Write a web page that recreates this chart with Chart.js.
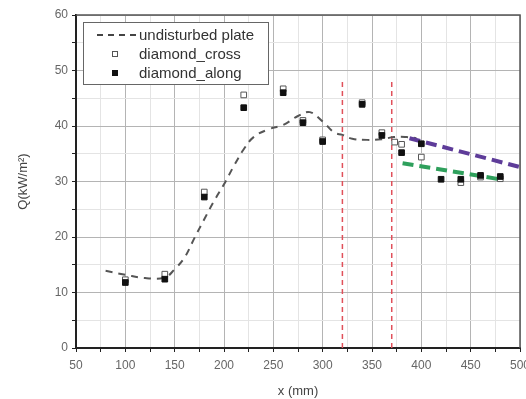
<!DOCTYPE html>
<html>
<head>
<meta charset="utf-8">
<script src="https://cdn.jsdelivr.net/npm/chart.js@4"></script>
<style>
  html, body { margin: 0; padding: 0; background: #fff; }
  #wrap { width: 526px; height: 399px; }
</style>
</head>
<body>
<div id="wrap"><canvas id="heatChart"></canvas></div>
<script>
// values
const plateX = [80, 100, 120, 140, 150, 160, 170, 180, 190, 200, 210, 220, 230, 245, 260, 275, 287, 300, 312, 320, 330, 345, 360, 372, 385, 395];
const plateY = [13.9, 13.2, 12.6, 12.7, 14.2, 16.3, 19.8, 23.2, 26.5, 29.5, 32.8, 35.8, 38, 39.4, 40.2, 41.8, 42.5, 40.8, 38.8, 38.4, 37.7, 37.5, 37.6, 38, 38, 37.8];

const crossX = [100, 140, 180, 220, 260, 280, 300, 340, 360, 373, 380, 400, 440, 460, 480];
const crossY = [12.3, 13.3, 28.1, 45.6, 46.7, 41, 37.5, 44.2, 38.8, 37.1, 36.7, 34.4, 29.8, 30.8, 30.5];

const alongX = [100, 140, 180, 220, 260, 280, 300, 340, 360, 380, 400, 420, 440, 460, 480];
const alongY = [11.8, 12.4, 27.2, 43.3, 46, 40.6, 37.2, 43.9, 38.3, 35.2, 36.8, 30.4, 30.4, 31.1, 30.9];

const purpleX = [388, 500];
const purpleY = [37.8, 32.6];
const greenX = [381, 483];
const greenY = [33.3, 30.3];

const markerX = [320, 370];
const markerTop = 48;

const xTicks = [50, 100, 150, 200, 250, 300, 350, 400, 450, 500];
const yTicks = [0, 10, 20, 30, 40, 50, 60];

function toPoints(xs, ys) {
  return xs.map((x, i) => ({ x: x, y: ys[i] }));
}

const FONT = "'Liberation Sans', Arial, sans-serif";

// frame on top/right + legend box inside the plot
const framePlugin = {
  id: "frame",
  afterDraw(chart) {
    const { ctx, chartArea: a } = chart;
    ctx.save();
    ctx.strokeStyle = "#555";
    ctx.lineWidth = 1.5;
    ctx.beginPath();
    ctx.moveTo(a.left, a.top);
    ctx.lineTo(a.right, a.top);
    ctx.lineTo(a.right, a.bottom);
    ctx.stroke();

    // legend
    const bx = a.left + 7, by = a.top + 7, bw = 185, bh = 62;
    ctx.fillStyle = "#fff";
    ctx.fillRect(bx, by, bw, bh);
    ctx.strokeStyle = "#666";
    ctx.lineWidth = 1;
    ctx.strokeRect(bx + 0.5, by + 0.5, bw, bh);

    const ds = chart.data.datasets;
    const rows = [ds[0], ds[1], ds[2]];
    ctx.font = "15px " + FONT;
    ctx.textBaseline = "middle";
    rows.forEach((d, i) => {
      const cy = by + 13 + i * 19;
      const sx = bx + 14, ex = bx + 54;
      if (i === 0) {
        ctx.strokeStyle = "#444";
        ctx.lineWidth = 2;
        ctx.setLineDash([6, 5]);
        ctx.beginPath();
        ctx.moveTo(sx, cy);
        ctx.lineTo(ex, cy);
        ctx.stroke();
        ctx.setLineDash([]);
      } else {
        const mx = (sx + ex) / 2 - 2;
        if (i === 1) {
          ctx.strokeStyle = "#555";
          ctx.lineWidth = 1;
          ctx.strokeRect(mx - 2.5, cy - 2.5, 5, 5);
        } else {
          ctx.fillStyle = "#111";
          ctx.fillRect(mx - 3, cy - 3, 6, 6);
        }
      }
      ctx.fillStyle = "#333";
      ctx.fillText(d.label, bx + 56, cy + 1);
    });
    ctx.restore();
  }
};

const ctx = document.getElementById("heatChart").getContext("2d");

new Chart(ctx, {
  type: "scatter",
  data: {
    datasets: [
      {
        label: "undisturbed plate",
        data: toPoints(plateX, plateY),
        showLine: true,
        borderColor: "#555",
        borderWidth: 2,
        borderDash: [7, 6],
        tension: 0.4,
        pointRadius: 0,
        order: 3
      },
      {
        label: "diamond_cross",
        data: toPoints(crossX, crossY),
        pointStyle: "rect",
        pointRadius: 4,
        backgroundColor: "#fff",
        borderColor: "#555",
        borderWidth: 1,
        order: 1
      },
      {
        label: "diamond_along",
        data: toPoints(alongX, alongY),
        pointStyle: "rect",
        pointRadius: 4,
        backgroundColor: "#111",
        borderColor: "#111",
        borderWidth: 1,
        order: 0
      },
      {
        label: "trend_upper",
        data: toPoints(purpleX, purpleY),
        showLine: true,
        borderColor: "#5e3c99",
        borderWidth: 4,
        borderDash: [11, 6],
        pointRadius: 0,
        order: 2
      },
      {
        label: "trend_lower",
        data: toPoints(greenX, greenY),
        showLine: true,
        borderColor: "#2fa05c",
        borderWidth: 4,
        borderDash: [11, 6],
        pointRadius: 0,
        order: 2
      },
      {
        label: "edge_1",
        data: [{ x: markerX[0], y: 0 }, { x: markerX[0], y: markerTop }],
        showLine: true,
        borderColor: "#e0505a",
        borderWidth: 1.5,
        borderDash: [5, 4],
        pointRadius: 0,
        order: 4
      },
      {
        label: "edge_2",
        data: [{ x: markerX[1], y: 0 }, { x: markerX[1], y: markerTop }],
        showLine: true,
        borderColor: "#e0505a",
        borderWidth: 1.5,
        borderDash: [5, 4],
        pointRadius: 0,
        order: 4
      }
    ]
  },
  options: {
    responsive: true,
    maintainAspectRatio: false,
    animation: false,
    layout: {
      padding: { top: 15, right: 6, left: 0, bottom: 0 }
    },
    plugins: {
      legend: { display: false },
      tooltip: { enabled: false }
    },
    scales: {
      x: {
        type: "linear",
        min: 50,
        max: 500,
        afterFit: s => {
          s.height = 51;
          s.paddingLeft = 0;
          s.paddingRight = 0;
        },
        ticks: {
          stepSize: 25,
          autoSkip: false,
          maxRotation: 0,
          color: "#666",
          font: { size: 12, family: FONT },
          padding: 6,
          callback: v => (xTicks.includes(v) ? v : "")
        },
        grid: {
          color: c => (xTicks.includes(c.tick.value) ? "#b4b4b4" : "#e4e4e4"),
          tickColor: "#222",
          tickLength: 4,
          lineWidth: 1
        },
        border: { color: "#222", width: 2 },
        title: {
          display: true,
          text: "x (mm)",
          color: "#444",
          font: { size: 13, family: FONT },
          padding: { top: 4, bottom: 0 }
        }
      },
      y: {
        min: 0,
        max: 60,
        afterFit: s => {
          s.width = 76;
          s.paddingTop = 0;
          s.paddingBottom = 0;
        },
        ticks: {
          stepSize: 5,
          autoSkip: false,
          color: "#666",
          font: { size: 12, family: FONT },
          padding: 4,
          callback: v => (yTicks.includes(v) ? v : "")
        },
        grid: {
          color: c => (yTicks.includes(c.tick.value) ? "#b4b4b4" : "#e4e4e4"),
          tickColor: "#222",
          tickLength: 4,
          lineWidth: 1
        },
        border: { color: "#222", width: 2 },
        title: {
          display: true,
          text: "Q(kW/m²)",
          color: "#444",
          font: { size: 13, family: FONT },
          padding: { top: 16, bottom: 0 }
        }
      }
    }
  },
  plugins: [framePlugin]
});
</script>
</body>
</html>
